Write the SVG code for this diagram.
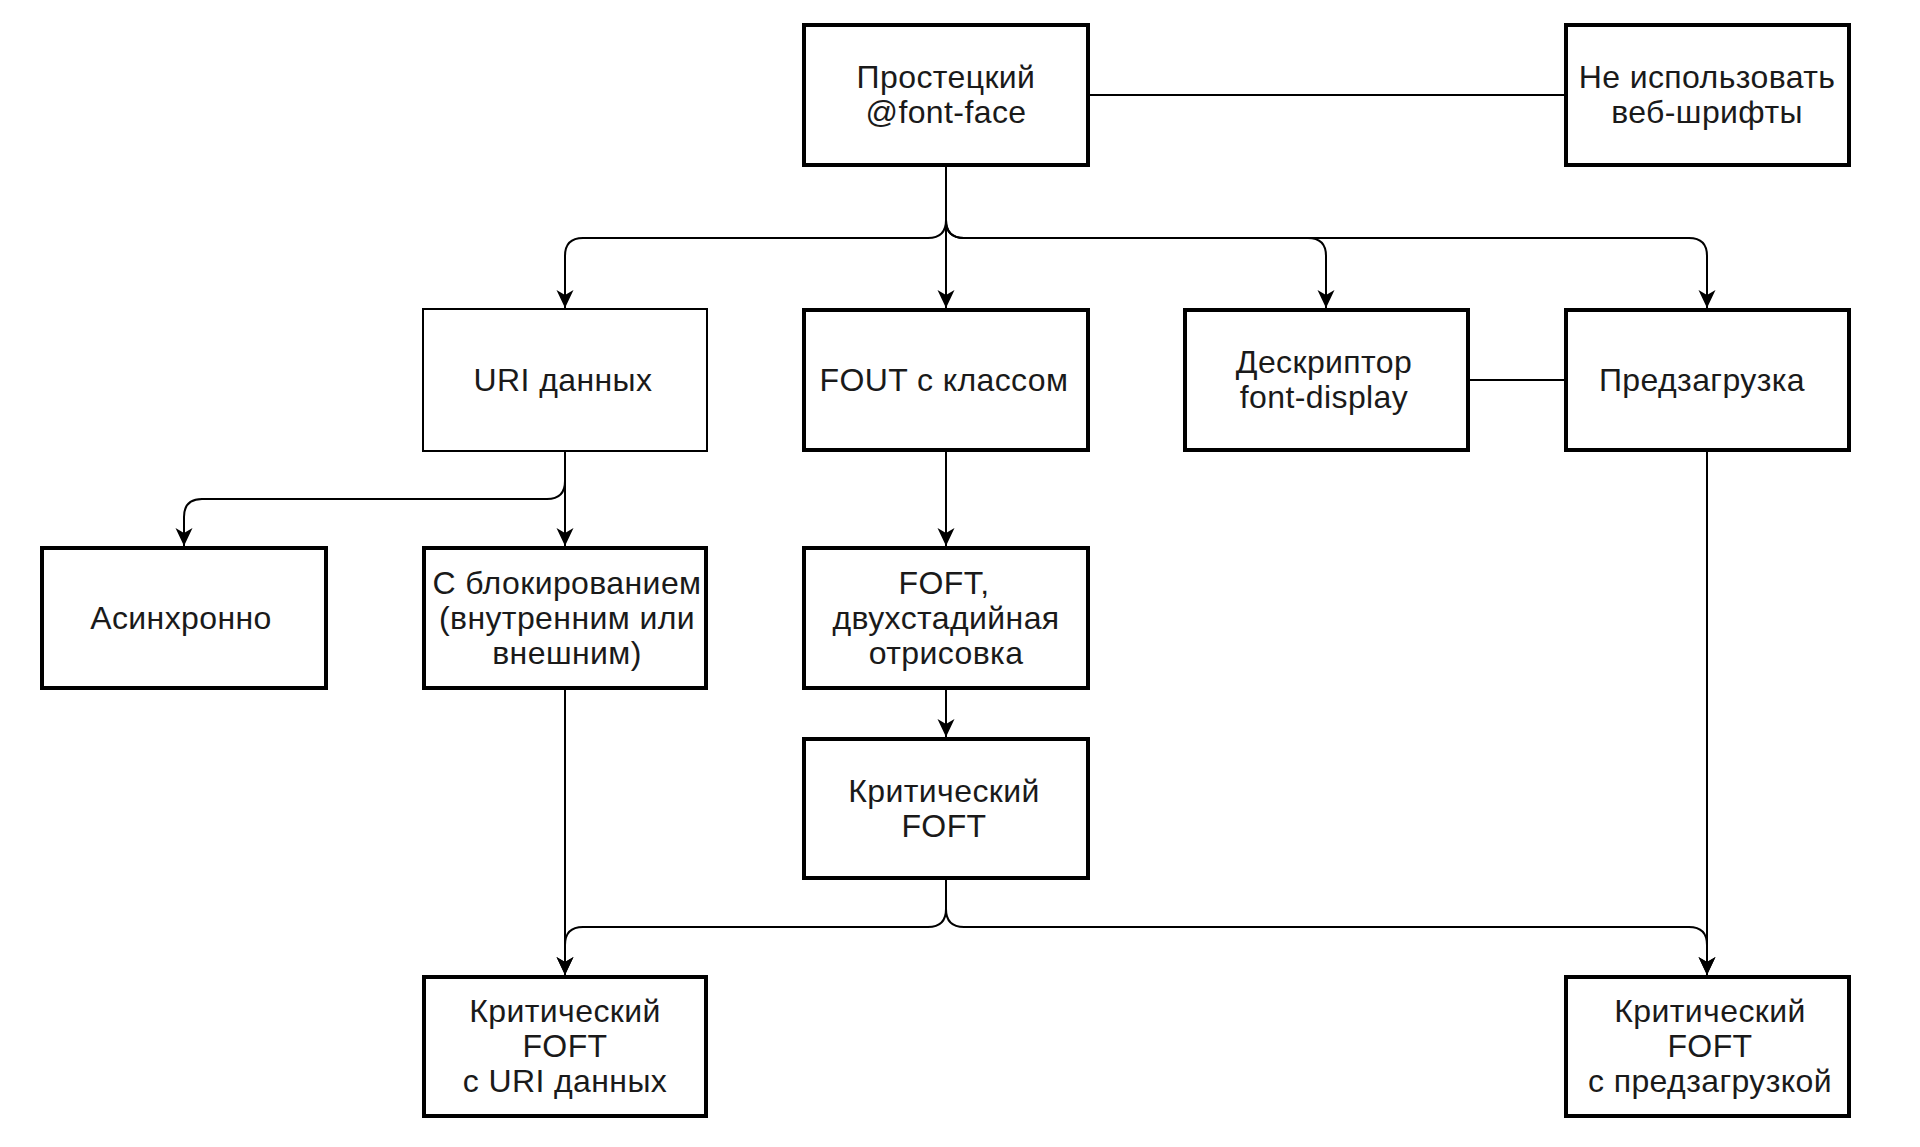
<svg xmlns="http://www.w3.org/2000/svg" width="1920" height="1147" viewBox="0 0 1920 1147">
<style>
.box{fill:#fff;stroke:#000;stroke-width:4}
.thin{fill:#fff;stroke:#000;stroke-width:2}
.t{font-family:"Liberation Sans",Arial,sans-serif;font-size:32px;letter-spacing:0.4px;fill:#1a1a1a;text-anchor:middle}
.e{fill:none;stroke:#000;stroke-width:2}
.a{marker-end:url(#arr)}
</style>
<defs>
<marker id="arr" viewBox="0 0 18 18" refX="18" refY="9" markerWidth="18" markerHeight="18" markerUnits="userSpaceOnUse" orient="auto">
<path d="M0,0.5 L18,9 L0,17.5 L5,9 Z" fill="#000"/>
</marker>
</defs>
<rect width="1920" height="1147" fill="#fff"/>
<g id="connectors">
<path class="e" d="M1090,95 H1564"/>
<path class="e a" d="M946,167 V220 Q946,238 928,238 H583 Q565,238 565,256 V308"/>
<path class="e a" d="M946,167 V308"/>
<path class="e a" d="M946,167 V220 Q946,238 964,238 H1308 Q1326,238 1326,256 V308"/>
<path class="e a" d="M946,167 V220 Q946,238 964,238 H1689 Q1707,238 1707,256 V308"/>
<path class="e" d="M1470,380 H1564"/>
<path class="e a" d="M565,452 V481 Q565,499 547,499 H202 Q184,499 184,517 V546"/>
<path class="e a" d="M565,452 V546"/>
<path class="e a" d="M946,452 V546"/>
<path class="e a" d="M946,690 V737"/>
<path class="e a" d="M565,690 V975"/>
<path class="e a" d="M946,880 V909 Q946,927 928,927 H583 Q565,927 565,945 V975"/>
<path class="e a" d="M946,880 V909 Q946,927 964,927 H1689 Q1707,927 1707,945 V975"/>
<path class="e a" d="M1707,452 V975"/>
</g>
<g id="n-simple">
<rect class="box" x="804" y="25" width="284" height="140"/>
<text class="t" x="946" y="88">Простецкий</text>
<text class="t" x="946" y="123">@font-face</text>
</g>
<g id="n-noweb">
<rect class="box" x="1566" y="25" width="283" height="140"/>
<text class="t" x="1707" y="88">Не использовать</text>
<text class="t" x="1707" y="123">веб-шрифты</text>
</g>
<g id="n-datauri">
<rect class="thin" x="423" y="309" width="284" height="142"/>
<text class="t" x="563" y="391">URI данных</text>
</g>
<g id="n-fout">
<rect class="box" x="804" y="310" width="284" height="140"/>
<text class="t" x="944" y="391">FOUT с классом</text>
</g>
<g id="n-fontdisplay">
<rect class="box" x="1185" y="310" width="283" height="140"/>
<text class="t" x="1324" y="373">Дескриптор</text>
<text class="t" x="1324" y="408">font-display</text>
</g>
<g id="n-preload">
<rect class="box" x="1566" y="310" width="283" height="140"/>
<text class="t" x="1702" y="391">Предзагрузка</text>
</g>
<g id="n-async">
<rect class="box" x="42" y="548" width="284" height="140"/>
<text class="t" x="181" y="629">Асинхронно</text>
</g>
<g id="n-blocking">
<rect class="box" x="424" y="548" width="282" height="140"/>
<text class="t" x="567" y="594">С блокированием</text>
<text class="t" x="567" y="629">(внутренним или</text>
<text class="t" x="567" y="664">внешним)</text>
</g>
<g id="n-foft">
<rect class="box" x="804" y="548" width="284" height="140"/>
<text class="t" x="944" y="594">FOFT,</text>
<text class="t" x="946" y="629">двухстадийная</text>
<text class="t" x="946" y="664">отрисовка</text>
</g>
<g id="n-critfoft">
<rect class="box" x="804" y="739" width="284" height="139"/>
<text class="t" x="944" y="802">Критический</text>
<text class="t" x="944" y="837">FOFT</text>
</g>
<g id="n-critdata">
<rect class="box" x="424" y="977" width="282" height="139"/>
<text class="t" x="565" y="1022">Критический</text>
<text class="t" x="565" y="1057">FOFT</text>
<text class="t" x="565" y="1092">с URI данных</text>
</g>
<g id="n-critpreload">
<rect class="box" x="1566" y="977" width="283" height="139"/>
<text class="t" x="1710" y="1022">Критический</text>
<text class="t" x="1710" y="1057">FOFT</text>
<text class="t" x="1710" y="1092">с предзагрузкой</text>
</g>
</svg>
